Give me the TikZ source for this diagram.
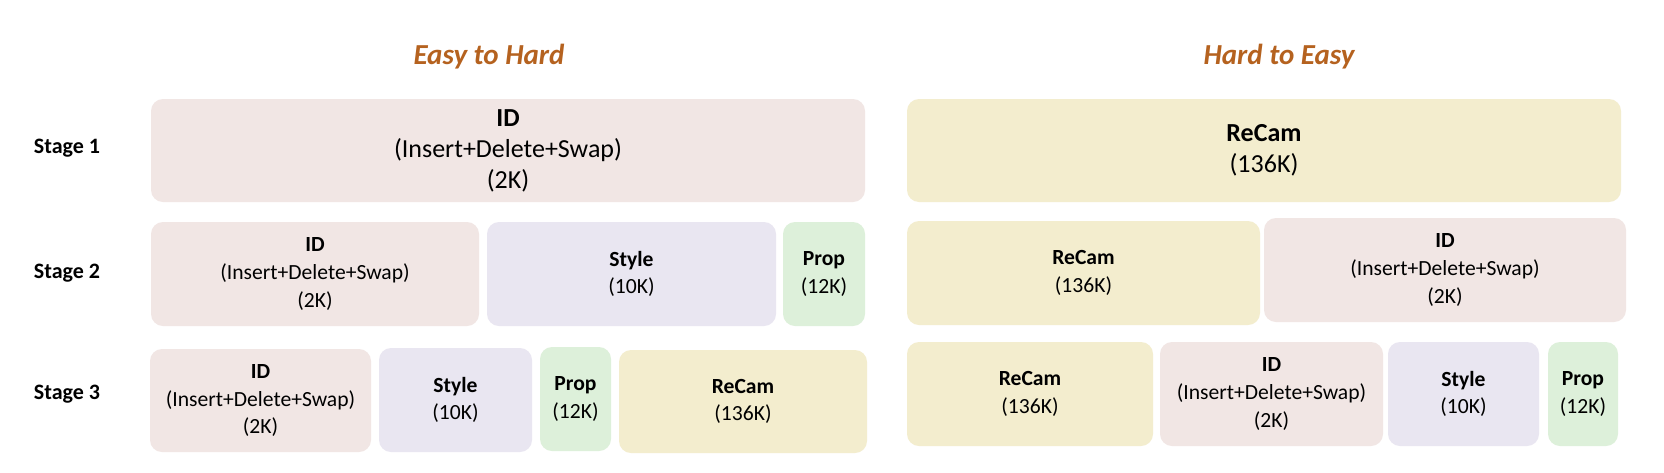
\documentclass[tikz,border=0pt]{standalone}
\usepackage{fontspec}
\setmainfont{Carlito}
\definecolor{idfill}{HTML}{F1E6E4}
\definecolor{stylefill}{HTML}{E9E6F1}
\definecolor{propfill}{HTML}{DDF0DA}
\definecolor{recamfill}{HTML}{F3EDCE}
\definecolor{titlecol}{HTML}{B5621F}
\begin{document}
\begin{tikzpicture}[
    x=0.5pt, y=-0.5pt,
    blk/.style={rounded corners=6pt, inner sep=0pt, align=center},
    big/.style={blk, font=\fontsize{13}{15.5}\selectfont},
    small/.style={blk, font=\fontsize{10.8}{13.8}\selectfont},
    stage/.style={font=\fontsize{11}{12}\selectfont\bfseries},
    heading/.style={font=\fontsize{14.5}{16}\selectfont\bfseries\itshape, text=titlecol},
]
    \useasboundingbox[fill=white] (0,0) rectangle (1664,472);

    % Column headers
    \node[heading] (easy) at (489, 57) {Easy to Hard};
    \node[heading] (hard) at (1279, 57) {Hard to Easy};

    % Row labels
    \node[stage] (s1) at (67, 148) {Stage 1};
    \node[stage] (s2) at (67, 273) {Stage 2};
    \node[stage] (s3) at (67, 394) {Stage 3};

    % Stage 1
    \node[big, fill=idfill, minimum width=357pt, minimum height=51.5pt] (l1id) at (508, 150.5)
        {\textbf{ID}\\(Insert+Delete+Swap)\\(2K)};
    \node[big, fill=recamfill, minimum width=357pt, minimum height=51.5pt] (r1recam) at (1264, 150.5)
        {\textbf{ReCam}\\(136K)};

    % Stage 2
    \node[small, fill=idfill, minimum width=164pt, minimum height=52pt] (l2id) at (315, 274)
        {\textbf{ID}\\(Insert+Delete+Swap)\\(2K)};
    \node[small, fill=stylefill, minimum width=144.5pt, minimum height=52pt] (l2style) at (631.5, 274)
        {\textbf{Style}\\(10K)};
    \node[small, fill=propfill, minimum width=41pt, minimum height=52pt] (l2prop) at (824, 274)
        {\textbf{Prop}\\(12K)};
    \node[small, fill=recamfill, minimum width=176.5pt, minimum height=52pt] (r2recam) at (1083.5, 273)
        {\textbf{ReCam}\\(136K)};
    \node[small, fill=idfill, minimum width=181pt, minimum height=52pt] (r2id) at (1445, 270)
        {\textbf{ID}\\(Insert+Delete+Swap)\\(2K)};

    % Stage 3
    \node[small, fill=idfill, minimum width=110.5pt, minimum height=51.5pt] (l3id) at (260.5, 400.5)
        {\textbf{ID}\\(Insert+Delete+Swap)\\(2K)};
    \node[small, fill=stylefill, minimum width=76.5pt, minimum height=52pt] (l3style) at (455.5, 400)
        {\textbf{Style}\\(10K)};
    \node[small, fill=propfill, minimum width=35.5pt, minimum height=52pt] (l3prop) at (575.5, 399)
        {\textbf{Prop}\\(12K)};
    \node[small, fill=recamfill, minimum width=124pt, minimum height=51.5pt] (l3recam) at (743, 401.5)
        {\textbf{ReCam}\\(136K)};
    \node[small, fill=recamfill, minimum width=123pt, minimum height=52pt] (r3recam) at (1030, 394)
        {\textbf{ReCam}\\(136K)};
    \node[small, fill=idfill, minimum width=111.5pt, minimum height=52pt] (r3id) at (1271.5, 394)
        {\textbf{ID}\\(Insert+Delete+Swap)\\(2K)};
    \node[small, fill=stylefill, minimum width=75.5pt, minimum height=52pt] (r3style) at (1463.5, 394)
        {\textbf{Style}\\(10K)};
    \node[small, fill=propfill, minimum width=35pt, minimum height=52pt] (r3prop) at (1583, 394)
        {\textbf{Prop}\\(12K)};
\end{tikzpicture}
\end{document}
